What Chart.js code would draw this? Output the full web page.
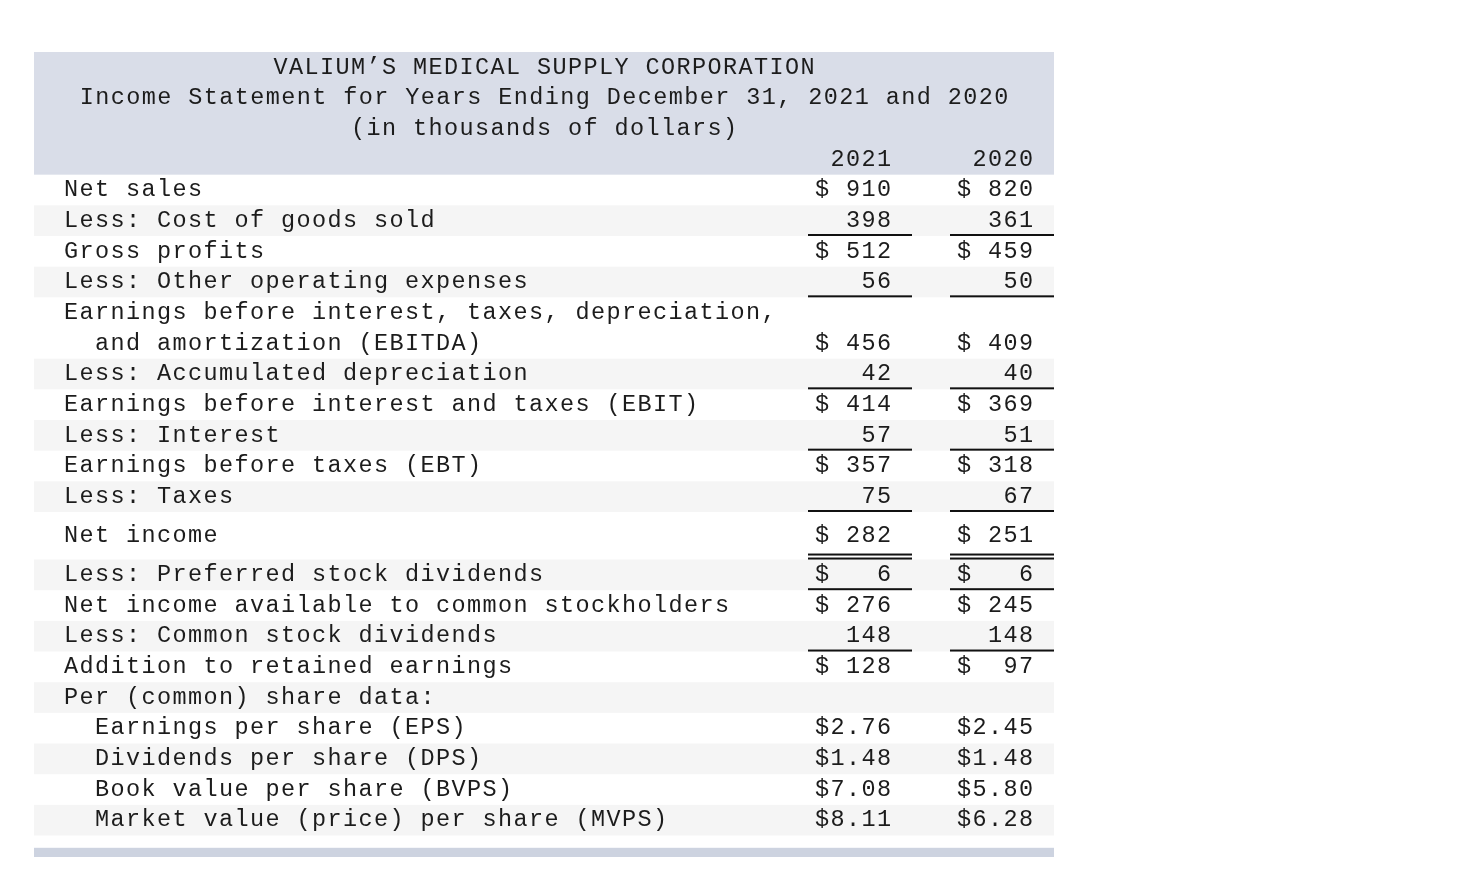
<!DOCTYPE html>
<html>
<head>
<meta charset="utf-8">
<script src="https://cdn.jsdelivr.net/npm/chart.js@4.4.0/dist/chart.umd.min.js"></script>
<style>
  html, body { margin: 0; background: #fff; }
</style>
</head>
<body>
<canvas id="statement" width="1482" height="884"></canvas>
<script>
// statement content
const titleLines = [
  'VALIUM\u2019S MEDICAL SUPPLY CORPORATION',
  'Income Statement for Years Ending December 31, 2021 and 2020',
  '(in thousands of dollars)'
];
const years = ['2021', '2020'];
const rowLabels = [
  'Net sales',
  'Less: Cost of goods sold',
  'Gross profits',
  'Less: Other operating expenses',
  'Earnings before interest, taxes, depreciation,\n  and amortization (EBITDA)',
  'Less: Accumulated depreciation',
  'Earnings before interest and taxes (EBIT)',
  'Less: Interest',
  'Earnings before taxes (EBT)',
  'Less: Taxes',
  'Net income',
  'Less: Preferred stock dividends',
  'Net income available to common stockholders',
  'Less: Common stock dividends',
  'Addition to retained earnings',
  'Per (common) share data:',
  '  Earnings per share (EPS)',
  '  Dividends per share (DPS)',
  '  Book value per share (BVPS)',
  '  Market value (price) per share (MVPS)'
];
const values2021 = [910, 398, 512, 56, 456, 42, 414, 57, 357, 75, 282, 6, 276, 148, 128, null, 2.76, 1.48, 7.08, 8.11];
const values2020 = [820, 361, 459, 50, 409, 40, 369, 51, 318, 67, 251, 6, 245, 148, 97, null, 2.45, 1.48, 5.80, 6.28];
const dollarRows = [true, false, true, false, true, false, true, false, true, false, true, true, true, false, true, false, true, true, true, true];
const perShareRows = [false, false, false, false, false, false, false, false, false, false, false, false, false, false, false, false, true, true, true, true];
const rules = ['', 'single', '', 'single', '', 'single', '', 'single', '', 'single', 'double', 'single', '', 'single', '', '', '', '', '', ''];

const FONT = '23.5px "Liberation Mono", "DejaVu Sans Mono", monospace';
const SPACING = 1.4;
const INK = '#1c1c1c';

function formatValue(v, i) {
  if (v === null) return '';
  if (perShareRows[i]) return '$' + v.toFixed(2);
  const s = String(v);
  return dollarRows[i] ? '$' + s.padStart(4, ' ') : s.padStart(5, ' ');
}

// row layout in line units
const headerUnits = titleLines.length + 1;
const rowStart = [];
const rowSize = [];
let cursor = headerUnits;
rowLabels.forEach((label, i) => {
  const size = label.split('\n').length + (rules[i] === 'double' ? 0.55 : 0);
  rowStart.push(cursor);
  rowSize.push(size);
  cursor += size;
});
const bodyEnd = cursor;
const barStart = bodyEnd + 0.4;
const totalUnits = barStart + 0.3;

function text(ctx, str, x, y, align) {
  ctx.textAlign = align;
  let dx = 0;
  if (align === 'right') dx = SPACING;
  if (align === 'center') dx = SPACING / 2;
  ctx.fillText(str, x + dx, y);
}

const statementPlugin = {
  id: 'statement',
  afterDraw(chart) {
    const { ctx } = chart;
    const xs = chart.scales.x;
    const ys = chart.scales.y;
    const X = v => xs.getPixelForValue(v);
    const Y = v => ys.getPixelForValue(v);
    const left = X(0), right = X(1020);

    ctx.save();
    // header band
    ctx.fillStyle = '#d9dde8';
    ctx.fillRect(left, Y(0), right - left, Y(headerUnits) - Y(0));
    // striped rows
    ctx.fillStyle = '#f5f5f5';
    rowLabels.forEach((_, i) => {
      if (i % 2 === 1) {
        ctx.fillRect(left, Y(rowStart[i]), right - left, Y(rowStart[i] + rowSize[i]) - Y(rowStart[i]));
      }
    });
    // bottom bar
    ctx.fillStyle = '#cdd3e0';
    ctx.fillRect(left, Y(barStart), right - left, Y(totalUnits) - Y(barStart));

    ctx.font = FONT;
    ctx.letterSpacing = SPACING + 'px';
    ctx.fillStyle = INK;
    ctx.textBaseline = 'middle';

    titleLines.forEach((line, i) => text(ctx, line, X(510), Y(i + 0.5), 'center'));
    const colRight = [857, 999];
    years.forEach((yr, c) => text(ctx, yr, X(colRight[c]), Y(headerUnits - 0.5), 'right'));

    rowLabels.forEach((label, i) => {
      const lines = label.split('\n');
      const mid = rowStart[i] + rowSize[i] / 2;
      const first = mid - (lines.length - 1) / 2;
      lines.forEach((ln, k) => text(ctx, ln, X(30), Y(first + k), 'left'));
      const vy = Y(first + lines.length - 1);
      text(ctx, formatValue(values2021[i], i), X(colRight[0]), vy, 'right');
      text(ctx, formatValue(values2020[i], i), X(colRight[1]), vy, 'right');
    });

    // accounting rules
    const ruleSpans = [[774, 878], [916, 1020]];
    ctx.fillStyle = '#111111';
    rules.forEach((r, i) => {
      if (!r) return;
      const bottom = Y(rowStart[i] + rowSize[i]);
      ruleSpans.forEach(([a, b]) => {
        const x0 = X(a), w = X(b) - x0;
        if (r === 'double') {
          ctx.fillRect(x0, bottom - 6, w, 2);
          ctx.fillRect(x0, bottom - 2, w, 2);
        } else {
          ctx.fillRect(x0, bottom - 2, w, 2);
        }
      });
    });
    ctx.restore();
  }
};

new Chart(document.getElementById('statement'), {
  type: 'scatter',
  data: { datasets: [] },
  options: {
    responsive: false,
    animation: false,
    events: [],
    layout: { padding: { left: 34, right: 428, top: 52, bottom: 27 } },
    plugins: { legend: { display: false }, tooltip: { enabled: false } },
    scales: {
      x: { type: 'linear', min: 0, max: 1020, display: false },
      y: { type: 'linear', min: 0, max: totalUnits, reverse: true, display: false }
    }
  },
  plugins: [statementPlugin]
});
</script>
</body>
</html>
